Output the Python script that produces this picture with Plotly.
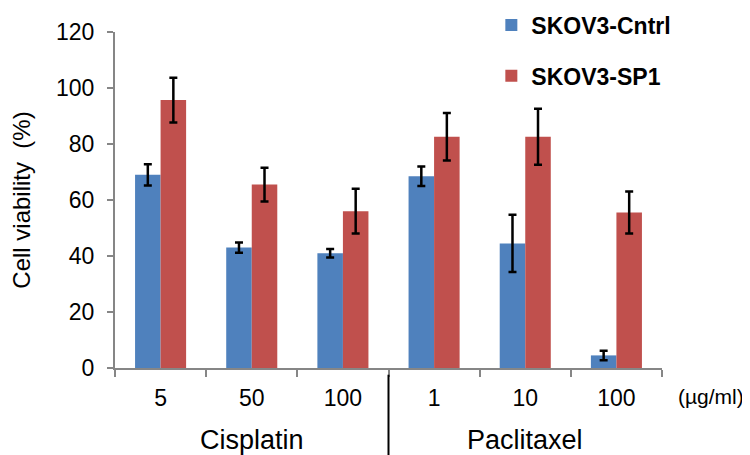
import plotly.graph_objects as go

doses = ["5", "50", "100", "1", "10", "100"]
drugs = ["Cisplatin", "Paclitaxel"]
cntrl = [69, 43, 41, 68.5, 44.5, 4.5]
cntrl_err = [3.8, 1.8, 1.5, 3.5, 10.2, 1.7]
sp1 = [95.7, 65.5, 56, 82.6, 82.6, 55.5]
sp1_err = [8, 6, 8, 8.5, 10, 7.5]
series_names = ["SKOV3-Cntrl", "SKOV3-SP1"]
colors = ["#4F81BD", "#C0504D"]
y_ticks = [0, 20, 40, 60, 80, 100, 120]

FONT = "Liberation Sans, Arial, sans-serif"
xpos = list(range(len(doses)))

fig = go.Figure()
for name, vals, errs, col, grp in [
    (series_names[0], cntrl, cntrl_err, colors[0], "a"),
    (series_names[1], sp1, sp1_err, colors[1], "b"),
]:
    fig.add_trace(go.Bar(
        x=xpos, y=vals, name=name, marker=dict(color=col, line=dict(width=0)),
        legendgroup=grp,
        error_y=dict(type="data", array=errs, visible=True, color="black",
                     thickness=2.5, width=4),
    ))

fig.update_layout(
    width=750, height=455,
    margin=dict(l=107, r=96, t=24, b=95, autoexpand=False),
    plot_bgcolor="white", paper_bgcolor="white",
    barmode="group", bargap=0.44, bargroupgap=0,
    font=dict(family=FONT, size=23, color="black"),
    showlegend=True,
    legend=dict(
        x=0.688, xref="paper", y=1.085, yref="paper",
        xanchor="left", yanchor="top",
        font=dict(family=FONT, size=23, color="black", weight="bold"),
        tracegroupgap=18, bgcolor="rgba(0,0,0,0)",
    ),
    xaxis=dict(
        range=[-0.5, 5.5], tickmode="array", tickvals=xpos, ticktext=doses,
        ticks="", showline=True, linecolor="#868686", linewidth=2,
        showgrid=False, zeroline=False, ticklabelstandoff=8,
        tickfont=dict(family=FONT, size=23, color="black"),
        minor=dict(tickmode="linear", tick0=-0.5, dtick=1, ticks="outside",
                   ticklen=7, tickwidth=2, tickcolor="#868686", showgrid=False),
    ),
    yaxis=dict(
        range=[0, 120], tickmode="array", tickvals=y_ticks,
        ticks="outside", ticklen=6, tickwidth=2, tickcolor="#868686",
        showline=True, linecolor="#868686", linewidth=2,
        showgrid=False, zeroline=False, ticklabelstandoff=8,
        tickfont=dict(family=FONT, size=23, color="black"),
        title=dict(text="Cell viability\u00a0\u00a0(%)", font=dict(family=FONT, size=24, color="black"),
                   standoff=19),
    ),
)

# drug group labels
for i, d in enumerate(drugs):
    fig.add_annotation(x=1 + 3 * i, y=-0.214, xref="x", yref="paper", text=d,
                       showarrow=False, font=dict(family=FONT, size=27, color="black"),
                       xanchor="center", yanchor="middle")

# unit label
fig.add_annotation(x=1.0, y=-0.086, xref="paper", yref="paper", text="(\u00b5g/ml)",
                   showarrow=False, font=dict(family=FONT, size=21, color="black"),
                   xanchor="left", yanchor="middle", xshift=14)

# group divider
fig.add_shape(type="line", x0=2.5, x1=2.5, xref="x", y0=-0.02, y1=-0.27, yref="paper",
              line=dict(color="black", width=2))

fig.write_html("out.html")
